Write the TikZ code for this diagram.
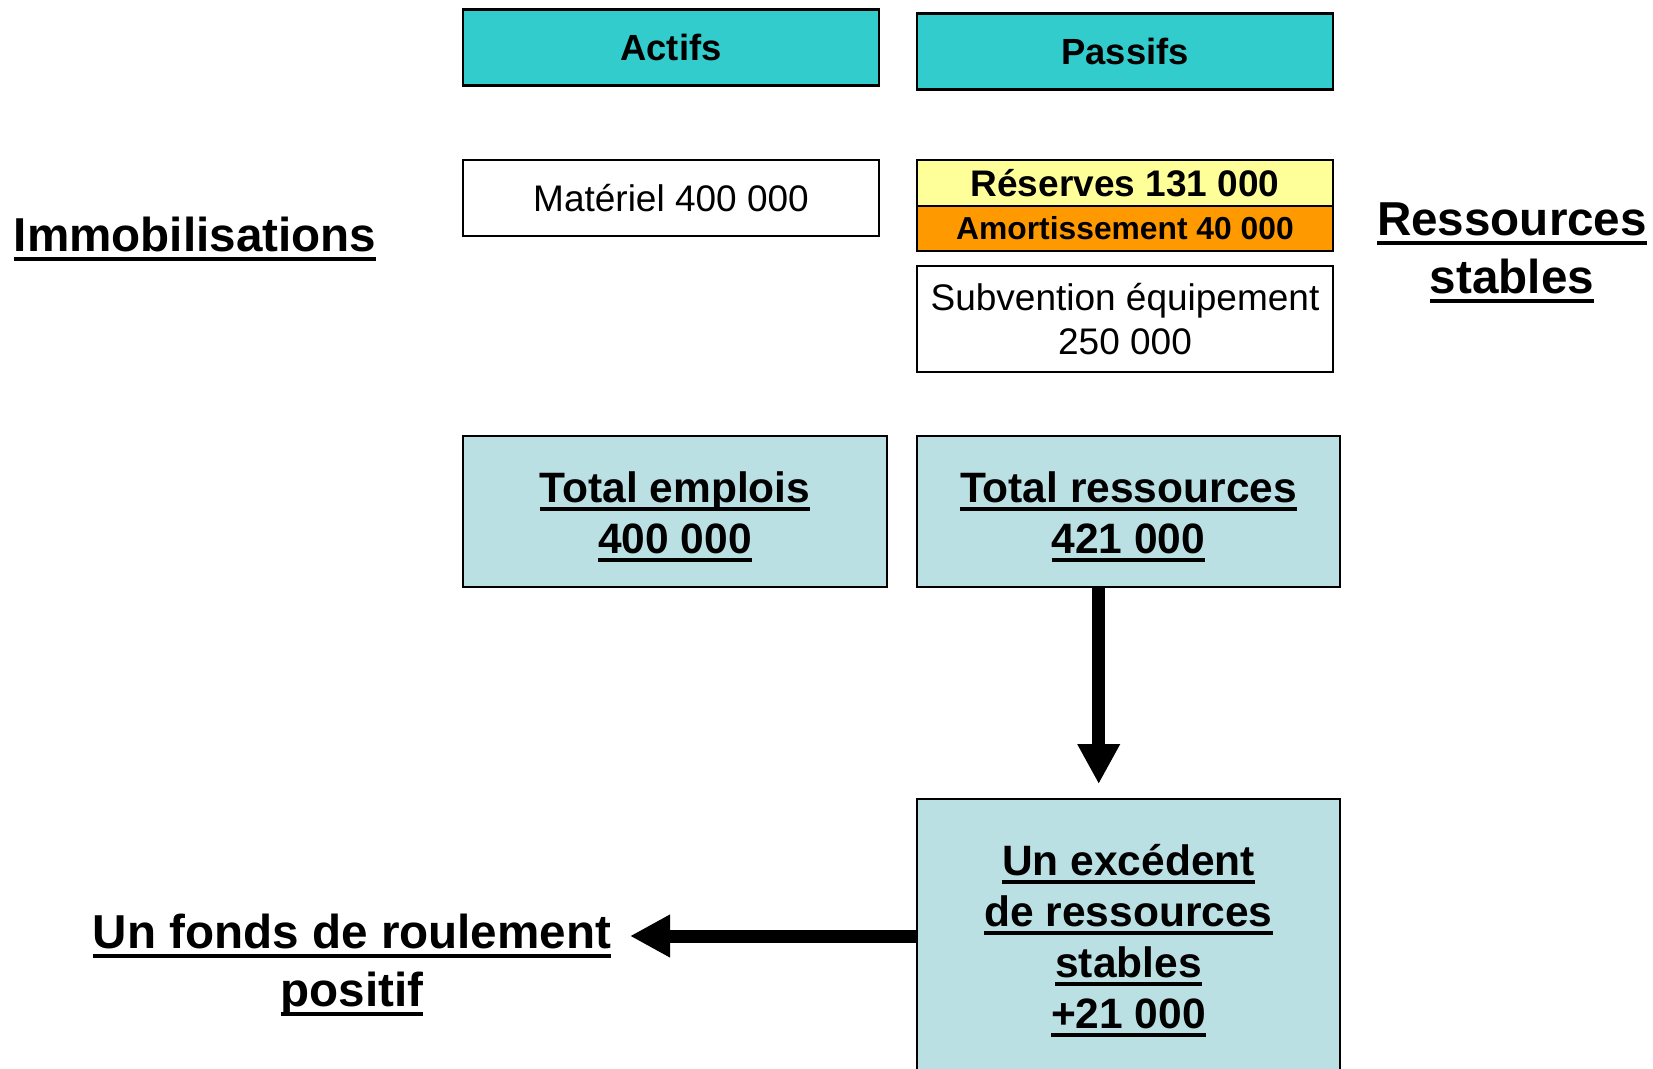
\documentclass[tikz,border=0pt]{standalone}
\usepackage{fontspec}
\setmainfont{Liberation Sans}
\usetikzlibrary{arrows.meta}

\definecolor{headteal}{HTML}{33CCCC}
\definecolor{resyellow}{HTML}{FFFF99}
\definecolor{amorange}{HTML}{FF9900}
\definecolor{totblue}{HTML}{BBE0E3}

% thick underline drawn under a single line of text
\newcommand\ulbar[1]{\setbox0=\hbox{#1}\leavevmode\rlap{\rule[-0.2em]{\wd0}{0.09em}}\box0}

\begin{document}
\begin{tikzpicture}[x=0.5pt,y=-0.5pt,
  cell/.style={draw=black, line width=1pt, inner sep=0pt, align=center,
               minimum width=208pt, minimum height=38pt},
  headcell/.style={cell, line width=1.3pt, fill=headteal,
                   font=\fontsize{18.2}{22}\selectfont\bfseries},
  itemcell/.style={cell, fill=white, font=\fontsize{18.5}{22.2}\selectfont},
  totcell/.style={cell, fill=totblue, minimum width=211.5pt, minimum height=75.5pt},
  tottext/.style={inner sep=0pt, align=center,
                  font=\fontsize{21.25}{25.6}\selectfont\bfseries},
  bigtext/.style={inner sep=0pt, align=center,
                  font=\fontsize{23.8}{29}\selectfont\bfseries},
  bigarrow/.style={line width=6.5pt, -{Triangle[width=20pt,length=20pt]}}]

\useasboundingbox (0,0) rectangle (1653,1069);
\clip (0,0) rectangle (1653,1069);

% column headers
\node[headcell] (act) at (671,47.5) {Actifs};
\node[headcell] (pas) at (1125,51.7) {Passifs};

% balance sheet items
\node[itemcell] (mat) at (671,198) {\raisebox{-1pt}{Matériel 400 000}};
\node[cell, fill=resyellow, minimum height=22.8pt,
      font=\fontsize{18.5}{22}\selectfont\bfseries] (res) at (1125,182.8) {\raisebox{-0.5pt}{Réserves 131 000}};
\node[cell, fill=amorange, minimum height=22.8pt,
      font=\fontsize{15.9}{19}\selectfont\bfseries] (amo) at (1125,228.4) {\raisebox{-1pt}{Amortissement 40 000}};
\node[itemcell, minimum height=53pt] (sub) at (1125,319) {Subvention équipement\\250 000};

% side labels
\node[bigtext, anchor=base] (imm) at (195,251.5) {\ulbar{Immobilisations}};
\node[bigtext] (rst) at (1512,253) {\ulbar{Ressources}\\\ulbar{stables}};

% totals
\node[totcell, minimum width=212pt] (te) at (675,511.5) {};
\node[tottext] (tet) at (675,516.8) {\ulbar{Total emplois}\\\ulbar{400 000}};
\node[totcell] (tr) at (1128.5,511.5) {};
\node[tottext] (trt) at (1128.5,516.8) {\ulbar{Total ressources}\\\ulbar{421 000}};

% surplus of stable resources
\node[totcell, minimum height=141pt] (ex) at (1128.5,940) {};
\node[tottext] (ext) at (1128.5,940.5) {\ulbar{Un excédent}\\\ulbar{de ressources}\\\ulbar{stables}\\\ulbar{+21 000}};

% working capital
\node[bigtext] (frp) at (352,965) {\ulbar{Un fonds de roulement}\\\ulbar{positif}};

% connectors
\coordinate (vtip) at (1098.7,784);
\draw[bigarrow] (tr.south -| vtip) -- (vtip);
\coordinate (htip) at (630,936);
\draw[bigarrow] (ex.west |- htip) -- (htip);
\end{tikzpicture}
\end{document}
